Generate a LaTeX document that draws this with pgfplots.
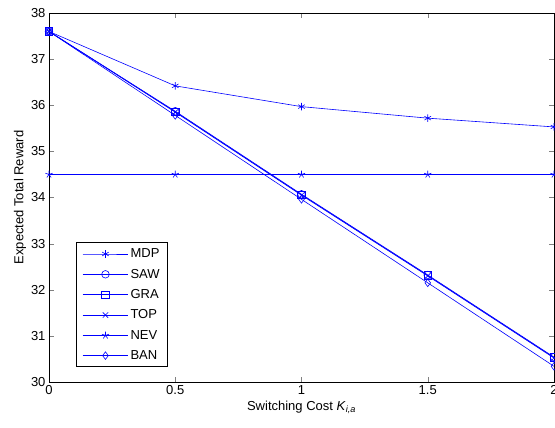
\documentclass[border=0pt]{standalone}
\usepackage{pgfplots}
\pgfplotsset{compat=1.18}
\usepackage{fontspec}
\setmainfont{Liberation Sans}
\setsansfont{Liberation Sans}
\definecolor{mblue}{RGB}{0,0,255}
\begin{document}
\begin{tikzpicture}
  \begin{axis}[
      scale only axis,
      width=505pt, height=369pt,
      xmin=0, xmax=2, ymin=30, ymax=38,
      xtick={0,0.5,...,2}, ytick={30,31,...,38},
      xticklabels={0,0.5,1,1.5,2},
      /pgf/number format/assume math mode=true,
      tick label style={font=\fontsize{13}{15}\selectfont},
      label style={font=\fontsize{13}{15}\selectfont},
      tick align=inside, tick pos=both,
      major tick length=5pt,
      axis line style={black, line width=0.8pt},
      xlabel={Switching Cost \textit{K}\textsubscript{\textit{i,a}}},
      ylabel={Expected Total Reward},
      xlabel style={yshift=1pt},
      ylabel style={yshift=-2pt},
      every axis plot/.append style={mblue, line width=0.6pt, mark size=3.8pt, mark options={mblue, solid, line width=0.6pt}},
      legend style={at={(rel axis cs:0.0535,0.04)}, anchor=south west,
        draw=black, line width=0.8pt, font=\fontsize{13}{15}\selectfont,
        row sep=5.8pt, inner xsep=6pt, inner ysep=4pt},
      legend cell align=left,
      legend image code/.code={
        \draw[mark repeat=2,mark phase=2] plot coordinates {(0.05cm,0cm) (0.85cm,0cm) (1.65cm,0cm)};},
    ]
    \addplot[mark=asterisk] coordinates {(0,37.6) (0.5,36.42) (1,35.97) (1.5,35.72) (2,35.53)};
    \addplot[mark=o] coordinates {(0,37.6) (0.5,35.87) (1,34.07) (1.5,32.32) (2,30.54)};
    \addplot[mark=square] coordinates {(0,37.6) (0.5,35.86) (1,34.06) (1.5,32.31) (2,30.53)};
    \addplot[mark=x] coordinates {(0,37.6) (0.5,35.85) (1,34.05) (1.5,32.30) (2,30.52)};
    \addplot[mark=star] coordinates {(0,34.5) (0.5,34.5) (1,34.5) (1.5,34.5) (2,34.5)};
    \addplot[mark=diamond] coordinates {(0,37.6) (0.5,35.78) (1,33.96) (1.5,32.15) (2,30.34)};
    \legend{MDP, SAW, GRA, TOP, NEV, BAN}
  \end{axis}
  \pgfresetboundingbox
  \path[use as bounding box] (-49pt,-46pt) rectangle (506pt,382pt);
\end{tikzpicture}
\end{document}
